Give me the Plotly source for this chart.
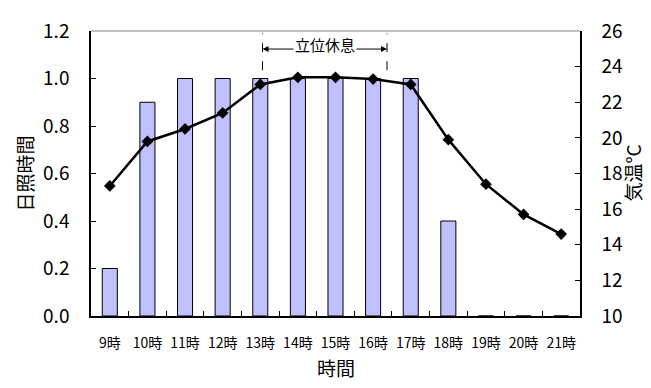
import plotly.graph_objects as go

hours = ["9時", "10時", "11時", "12時", "13時", "14時", "15時", "16時", "17時", "18時", "19時", "20時", "21時"]
sunshine = [0.2, 0.9, 1.0, 1.0, 1.0, 1.0, 1.0, 1.0, 1.0, 0.4, 0, 0, 0]
temperature = [17.3, 19.8, 20.5, 21.4, 23.0, 23.4, 23.4, 23.3, 23.0, 19.9, 17.4, 15.7, 14.6]
rest_label = "立位休息"
rest_start, rest_end = 4.06, 7.37  # category-index positions of the rest period

FONT = "Noto Sans CJK JP"

fig = go.Figure()
fig.add_trace(go.Bar(
    x=hours, y=sunshine, width=0.4,
    marker=dict(color="#C0C0FF", line=dict(color="black", width=1)),
    yaxis="y", showlegend=False,
))
fig.add_trace(go.Scatter(
    x=hours, y=temperature, mode="lines+markers", yaxis="y2",
    line=dict(color="black", width=2.5),
    marker=dict(symbol="diamond", size=9, color="black"),
    showlegend=False,
))

mid = (rest_start + rest_end) / 2
for xe in (rest_start, rest_end):
    fig.add_shape(type="line", xref="x", yref="y", x0=xe, x1=xe, y0=1.035, y1=1.19,
                  line=dict(color="black", width=1, dash="dash"))
    fig.add_annotation(x=xe, y=1.124, ax=mid, ay=1.124, xref="x", yref="y", axref="x", ayref="y",
                       text="", showarrow=True, arrowhead=2, arrowsize=1.2, arrowwidth=1, arrowcolor="black")
fig.add_annotation(x=mid, y=1.124, xref="x", yref="y", text=rest_label, showarrow=False,
                   bgcolor="white", font=dict(family=FONT, size=15, color="black"), yshift=5)

# top border (gray)
fig.add_shape(type="line", xref="paper", yref="paper", x0=0, x1=1, y0=1, y1=1,
              line=dict(color="#808080", width=1))

# axis titles as annotations (pixel-placed relative to plot area)
fig.add_annotation(text="日照時間", xref="paper", yref="paper", x=0, y=0.5, xanchor="center",
                   yanchor="middle", xshift=-67, textangle=-90, showarrow=False,
                   font=dict(family=FONT, size=19, color="black"))
fig.add_annotation(text="気温°C", xref="paper", yref="paper", x=1, y=0.5, xanchor="center",
                   yanchor="middle", xshift=52, textangle=-90, showarrow=False,
                   font=dict(family=FONT, size=19, color="black"))
fig.add_annotation(text="時間", xref="paper", yref="paper", x=0.5, y=0, xanchor="center",
                   yanchor="middle", yshift=-51, showarrow=False,
                   font=dict(family=FONT, size=19, color="black"))

# the page body adds an 8px offset, so the figure is sized to fit the 651x388 window
fig.update_layout(
    width=643, height=380,
    margin=dict(l=83, r=71, t=23, b=72),
    paper_bgcolor="white", plot_bgcolor="white",
    font=dict(family=FONT, color="black"),
    bargap=0.6,
    xaxis=dict(
        type="category", showline=True, linecolor="black", linewidth=1.5,
        ticks="inside", ticklen=5, tickcolor="black", tickson="boundaries",
        tickfont=dict(size=14), tickangle=0, ticklabelstandoff=13, showgrid=False,
        automargin=False, range=[-0.5, 12.5],
    ),
    yaxis=dict(
        range=[0, 1.2], dtick=0.2, tickformat=".1f",
        showline=True, linecolor="black", linewidth=1.5,
        ticks="inside", ticklen=5, tickcolor="black",
        tickfont=dict(size=19), ticklabelstandoff=16, showgrid=False, zeroline=False,
        automargin=False,
    ),
    yaxis2=dict(
        range=[10, 26], dtick=2, overlaying="y", side="right",
        showline=True, linecolor="black", linewidth=1.5,
        ticks="inside", ticklen=5, tickcolor="black",
        tickfont=dict(size=19), ticklabelstandoff=16, showgrid=False, zeroline=False,
        automargin=False,
    ),
)

fig.write_html("out.html")
